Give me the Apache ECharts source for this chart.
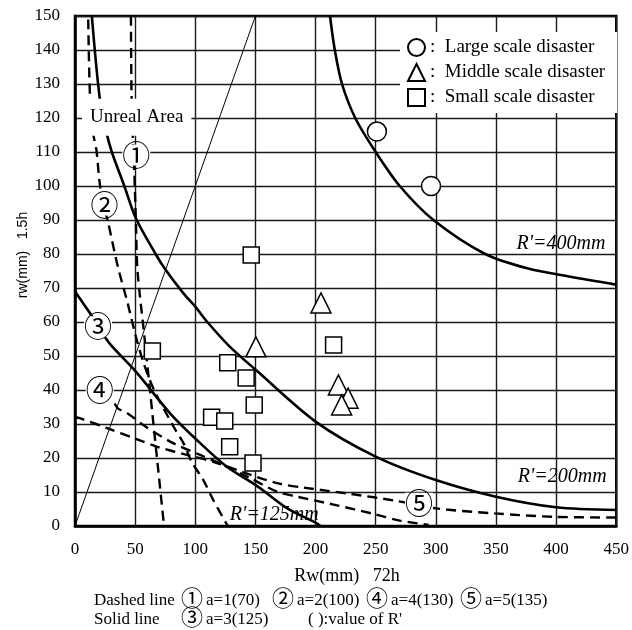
<!DOCTYPE html>
<html><head><meta charset="utf-8">
<script src="https://cdn.jsdelivr.net/npm/echarts@6/dist/echarts.min.js"></script>
<style>html,body{margin:0;padding:0;background:#fff}#c{width:632px;height:630px}</style>
</head><body><div id="c"></div>
<script>
// ---- axis ticks ----
const xTicks = [0, 50, 100, 150, 200, 250, 300, 350, 400, 450];
const yTicks = [0, 10, 20, 30, 40, 50, 60, 70, 80, 90, 100, 110, 120, 130, 140, 150];

// ---- solid curves ----
const r400X = [212, 216, 222, 233, 250, 270, 298, 341, 376, 412, 450];
const r400Y = [150, 140, 130, 120, 110, 100, 90, 80, 75.8, 73.3, 71];
const r200X = [14, 20.5, 26, 30.6, 41, 50.6, 67, 75, 90, 100, 110, 128, 150, 200, 250, 300, 350, 400, 450];
const r200Y = [150, 126, 116, 110, 100, 90.5, 80, 75.5, 68.5, 64.5, 60, 53, 46, 30.7, 20.4, 13.5, 8.6, 5.5, 4.7];
const c3X = [0, 10.7, 19, 28.7, 50.6, 79.4, 101.3, 126, 152, 176.5, 201, 204];
const c3Y = [69, 63.5, 59, 53.7, 45.4, 33, 25.3, 17.5, 11.6, 5.2, 0.8, 0];
// ---- dashed curves ----
const c1X = [46.5, 47, 48, 49.3, 50.6, 52, 57.4, 62.9, 65.8, 69.2, 74];
const c1Y = [150, 127, 115, 104, 90, 75, 56.7, 38, 28, 16.5, 0];
const c2X = [11, 12.5, 15, 17.8, 20.5, 24, 27.4, 35.6, 43.8, 50.6, 57, 65.7, 82, 90.3, 97, 106.7, 115, 127];
const c2Y = [149, 126, 115.6, 110.6, 101, 94, 89.5, 76.3, 65.5, 55.7, 48, 40, 29.2, 24.3, 18.9, 13.5, 7.6, 0];
const c4X = [33, 35.6, 43.8, 58.8, 82, 104, 120.4, 145, 168, 185, 215, 250, 270, 294];
const c4Y = [36, 34.6, 33.1, 29.2, 24.3, 20.9, 18.4, 14.2, 10.1, 8.6, 6.3, 3.4, 1.6, 0.3];
const c5X = [0, 4, 27.4, 49.3, 68.4, 93, 115, 140, 168, 190, 230, 267, 300, 349, 398, 450];
const c5Y = [32, 31.7, 28.7, 25.8, 23.3, 20.9, 18.9, 15.8, 12.6, 11.3, 9.4, 7.4, 5.2, 3.7, 2.7, 2.5];
// ---- thin boundary line Rw = rw ----
const thinX = [0, 150];
const thinY = [0, 150];

// ---- observed disasters ----
const largeRw = [251, 296];
const largeRw15 = [116, 100];
const middleRw = [204.5, 150.4, 219, 227, 221.7];
const middleRw15 = [65.6, 52.7, 41.5, 37.6, 35.6];
const smallRw = [146.5, 64.3, 127, 142.3, 149, 113.6, 124.5, 128.6, 148, 215];
const smallRw15 = [79.7, 51.5, 48, 43.5, 35.6, 32, 30.9, 23.3, 18.5, 53.2];

const seriesNames = ['Large scale disaster', 'Middle scale disaster', 'Small scale disaster'];

// ---- footnote items ----
const dashedMarks = ['①', '②', '④', '⑤'];
const dashedText = ['a=1(70)', 'a=2(100)', 'a=4(130)', 'a=5(135)'];
const solidMarks = ['③'];
const solidText = ['a=3(125)'];

const zip = (a, b) => a.map((v, i) => [v, b[i]]);
const SERIF = "'Liberation Serif','Times New Roman',serif";
const CIRC = "'Noto Sans CJK JP','DejaVu Sans',sans-serif";

function curve(name, xs, ys, dashed, width) {
  return {
    name: name, type: 'line', data: zip(xs, ys), showSymbol: false, symbol: 'none',
    smooth: 0.3, silent: true, z: 3, clip: true,
    lineStyle: { color: '#000', width: width, type: dashed ? [10, 6] : 'solid', cap: 'butt' }
  };
}
function marks(name, xs, ys, symbol, size) {
  return {
    name: name, type: 'scatter', data: zip(xs, ys), symbol: symbol, symbolSize: size, z: 6,
    itemStyle: { color: '#fff', borderColor: '#000', borderWidth: 1.5, opacity: 1 }
  };
}

const chart = echarts.init(document.getElementById('c'), null, { renderer: 'canvas' });
const option = {
  animation: false,
  backgroundColor: '#fff',
  grid: { left: 75, right: 9, top: 16, bottom: 104, show: true, borderColor: '#000', borderWidth: 2.5, backgroundColor: 'transparent' },
  xAxis: {
    type: 'value', min: xTicks[0], max: xTicks[xTicks.length - 1], interval: xTicks[1] - xTicks[0],
    axisLine: { show: true, lineStyle: { color: '#000', width: 2.5 } },
    axisTick: { show: false },
    axisLabel: { color: '#000', fontFamily: SERIF, fontSize: 17, margin: 15 },
    splitLine: { show: true, lineStyle: { color: '#1a1a1a', width: 1.4 } }
  },
  yAxis: {
    type: 'value', min: yTicks[0], max: yTicks[yTicks.length - 1], interval: yTicks[1] - yTicks[0],
    axisLine: { show: true, lineStyle: { color: '#000', width: 2.5 } },
    axisTick: { show: false },
    axisLabel: { color: '#000', fontFamily: SERIF, fontSize: 17, margin: 15 },
    splitLine: { show: true, lineStyle: { color: '#1a1a1a', width: 1.4 } }
  },
  legend: {
    data: seriesNames, orient: 'vertical', left: 400, top: 32,
    backgroundColor: '#fff', padding: [6, 12, 6, 7], itemGap: 6,
    itemWidth: 17, itemHeight: 17, selectedMode: false,
    textStyle: { fontFamily: SERIF, fontSize: 19, color: '#000' },
    formatter: n => ':  ' + n
  },
  series: [
    curve('thin', thinX, thinY, false, 1),
    curve("R'=400", r400X, r400Y, false, 2.6),
    curve("R'=200", r200X, r200Y, false, 2.6),
    curve('3', c3X, c3Y, false, 2.6),
    curve('1', c1X, c1Y, true, 2.4),
    curve('2', c2X, c2Y, true, 2.4),
    curve('4', c4X, c4Y, true, 2.4),
    curve('5', c5X, c5Y, true, 2.4),
    marks(seriesNames[0], largeRw, largeRw15, 'circle', 19),
    marks(seriesNames[1], middleRw, middleRw15, 'triangle', 20),
    marks(seriesNames[2], smallRw, smallRw15, 'rect', 16)
  ]
};
chart.setOption(option);

// annotations placed at data coordinates
const CF = '28px ' + CIRC;
const notes = [
  { t: 'Unreal Area', x: 51.3, y: 120.2, font: '19px ' + SERIF, bg: true, pad: [9, 8] },
  { t: '①', x: 50.9, y: 109.1, font: CF, bg: true, pad: [0, 0], lh: 21 },
  { t: '②', x: 24.6, y: 94.4, font: CF, bg: true, pad: [0, 0], lh: 21 },
  { t: '③', x: 19.1, y: 58.6, font: CF, bg: true, pad: [0, 0], lh: 21 },
  { t: '④', x: 20.5, y: 40, font: CF, bg: true, pad: [0, 0], lh: 21 },
  { t: '⑤', x: 286, y: 6.7, font: CF, bg: true, pad: [0, 0], lh: 21 },
  { t: "R'=400mm", x: 441, y: 83, font: 'italic 20px ' + SERIF, align: 'right' },
  { t: "R'=200mm", x: 442, y: 14.5, font: 'italic 20px ' + SERIF, align: 'right' },
  { t: "R'=125mm", x: 128.7, y: 3.2, font: 'italic 20px ' + SERIF, align: 'left' }
];
const graphics = notes.map(n => {
  const p = chart.convertToPixel({ gridIndex: 0 }, [n.x, n.y]);
  const st = { text: n.t, x: p[0], y: p[1], font: n.font, fill: '#000', align: n.align || 'center', verticalAlign: 'middle' };
  if (n.lh) st.lineHeight = n.lh;
  if (n.bg) { st.backgroundColor = '#fff'; st.padding = n.pad; }
  return { type: 'text', z: 100, silent: true, style: st };
});
// axis names and footnote
const FOOT = '17px ' + SERIF;
const FCIRC = '22px ' + CIRC;
const T = (text, x, y, font, align, extra) => Object.assign({ type: 'text', z: 100, silent: true,
  style: { text: text, x: x, y: y, font: font, fill: '#000', align: align, verticalAlign: 'middle' } }, extra || {});
graphics.push(T('Rw(mm)   72h', 347, 576, '18px ' + SERIF, 'center'));
graphics.push(T('rw(mm)   1.5h', 0, 0, "14px 'Liberation Sans',Arial,sans-serif", 'center', { x: 23, y: 255, rotation: Math.PI / 2 }));
graphics.push(T('Dashed line', 94, 601, FOOT, 'left'));
graphics.push(T('Solid line', 94, 620, FOOT, 'left'));
const dashedX = [181, 272, 366, 460];
dashedMarks.forEach((m, i) => {
  graphics.push(T(m, dashedX[i], 598, FCIRC, 'left'));
  graphics.push(T(dashedText[i], dashedX[i] + 25, 601, FOOT, 'left'));
});
solidMarks.forEach((m, i) => {
  graphics.push(T(m, 181, 617, FCIRC, 'left'));
  graphics.push(T(solidText[i], 181 + 25, 620, FOOT, 'left'));
});
graphics.push(T("( ):value of R'", 308, 620, FOOT, 'left'));
chart.setOption({ graphic: graphics });
</script></body></html>
